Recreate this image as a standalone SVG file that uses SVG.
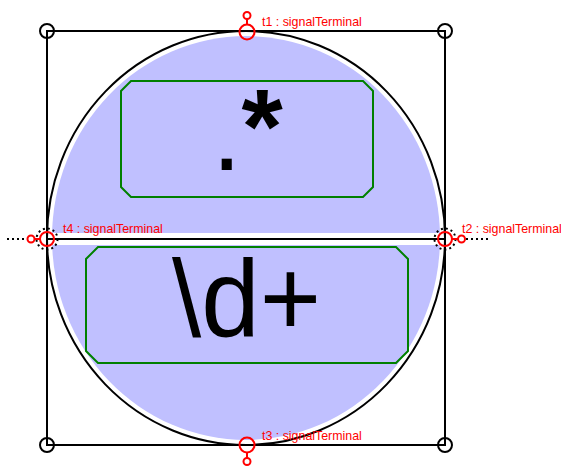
<svg xmlns="http://www.w3.org/2000/svg" width="561" height="466" viewBox="0 0 561 466">
<style>
.blk{fill:none;stroke:#000;stroke-width:2}
.grn{fill:none;stroke:#008000;stroke-width:2}
.big{font-family:"Liberation Sans",Arial,sans-serif;fill:#000}
.lbl{font-family:"Liberation Sans",Arial,sans-serif;font-size:12.4px;fill:#ff0000}
.term{fill:none;stroke:#ff0000;stroke-width:2}
.dot{fill:none;stroke:#000;stroke-width:2;stroke-dasharray:2,3}
</style>
<rect width="561" height="466" fill="#fff"/>
<g id="ellipse-node">
  <ellipse cx="246" cy="238" rx="194" ry="202" fill="#c0c0ff"/>
  <rect x="50" y="233" width="392" height="12" fill="#fff"/>
  <ellipse cx="246" cy="238" rx="199" ry="207" class="blk"/>
</g>
<g id="frame">
  <rect x="47" y="31" width="398" height="414" class="blk"/>
  <circle cx="47" cy="31" r="7" class="blk"/>
  <circle cx="445" cy="31" r="7" class="blk"/>
  <circle cx="47" cy="445" r="7" class="blk"/>
  <circle cx="445" cy="445" r="7" class="blk"/>
</g>
<g id="connectors">
  <line x1="47" y1="239" x2="445" y2="239" class="blk"/>
  <line x1="7" y1="239" x2="26" y2="239" class="dot"/>
  <line x1="466" y1="239" x2="488" y2="239" class="dot"/>
</g>
<g id="box-top">
  <polygon points="131,81 363,81 373,91 373,187 363,197 131,197 121,187 121,91" class="grn"/>
  <text x="212" y="170" class="big" font-size="106">.<tspan dy="-7" font-weight="bold">*</tspan></text>
</g>
<g id="box-bottom">
  <polygon points="98,247 396,247 408,259 408,351 396,363 98,363 86,351 86,259" class="grn"/>
  <text x="172" y="336" class="big" font-size="109" textLength="149" lengthAdjust="spacingAndGlyphs">\d+</text>
</g>
<g id="t1">
  <circle cx="247" cy="32" r="7.5" class="term"/>
  <line x1="247" y1="19" x2="247" y2="24.5" class="term"/>
  <circle cx="247" cy="15.5" r="3.5" class="term"/>
  <text x="262" y="25.5" class="lbl">t1 : signalTerminal</text>
</g>
<g id="t2">
  <circle cx="445" cy="239" r="10.5" class="dot" stroke-width="1.5"/>
  <circle cx="445" cy="239" r="7" class="term"/>
  <line x1="452" y1="239" x2="458" y2="239" class="term"/>
  <circle cx="461.5" cy="239" r="3.5" class="term"/>
  <text x="462" y="233" class="lbl">t2 : signalTerminal</text>
</g>
<g id="t3">
  <circle cx="247" cy="445" r="7.5" class="term"/>
  <line x1="247" y1="452.5" x2="247" y2="458" class="term"/>
  <circle cx="247" cy="461.5" r="3.5" class="term"/>
  <text x="262" y="439.5" class="lbl">t3 : signalTerminal</text>
</g>
<g id="t4">
  <circle cx="47" cy="239" r="10.5" class="dot" stroke-width="1.5"/>
  <circle cx="47" cy="239" r="7" class="term"/>
  <line x1="34.5" y1="239" x2="40" y2="239" class="term"/>
  <circle cx="31" cy="239" r="3.5" class="term"/>
  <text x="63" y="232.5" class="lbl">t4 : signalTerminal</text>
</g>
</svg>
